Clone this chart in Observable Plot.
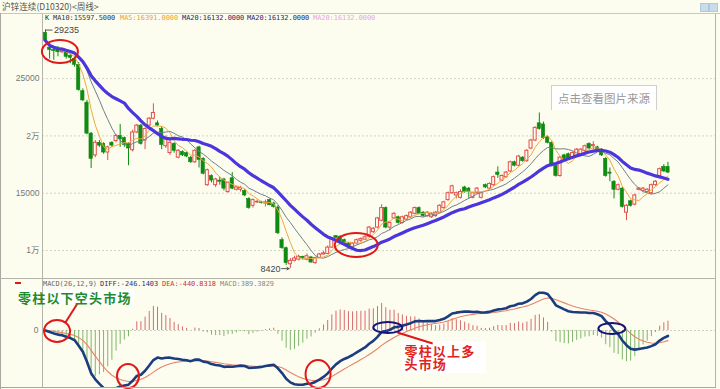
<!DOCTYPE html>
<html><head><meta charset="utf-8">
<script src="https://cdn.jsdelivr.net/npm/d3@7"></script>
<script src="https://cdn.jsdelivr.net/npm/@observablehq/plot@0.6"></script>
<style>
html,body{margin:0;padding:0;background:#fdfdef;}
#wrap{position:relative;width:720px;height:389px;overflow:hidden;background:#fdfdef;font-family:"Liberation Sans","DejaVu Sans",sans-serif;}
.abs{position:absolute;white-space:nowrap;}
.mono{font-family:"DejaVu Sans Mono","Liberation Mono",monospace;}
.cjk{font-family:"Noto Sans CJK SC",sans-serif;}
.ln{position:absolute;}
</style></head>
<body><div id="wrap"></div>
<script>
// ---- data (weekly OHLC) ----
const opens = [29000,27700,27500,27600,27300,27300,27000,26700,26200,23900,22900,20200,18300,19400,19300,18550,19400,19550,20000,19800,
19300,18750,20300,20900,19600,20900,21500,21100,20600,19100,18500,19300,18100,18600,18500,18100,17700,19000,18000,15700,
16500,15700,16100,16200,15100,16300,15300,15300,15200,14500,13900,14200,14200,14100,14400,14100,13750,10900,10200,8800,
9100,9200,9450,9200,9400,8900,9350,9650,9700,10250,11250,11200,10900,10600,10300,10600,10850,10950,11200,11600,
12000,12600,13700,12000,12800,12900,12400,12700,12900,13200,13700,13300,13000,12900,13000,13300,13700,14400,15000,14800,
14600,15500,15400,14600,15000,14600,15700,15400,15700,16800,16100,16400,16900,17700,17400,18100,17800,18900,19600,21100,
21000,19900,19400,17400,16500,18300,18400,18100,18300,18400,18700,19300,19100,19000,18800,18000,16800,16000,15300,15400,
13300,14300,14000,15300,15200,15100,15000,15700,16500,17300,17300];
const highs = [29235,28000,27700,27800,27500,27400,27100,26900,26400,24100,23100,20300,19600,19600,19400,19100,19500,20100,21000,19900,
19400,20500,21000,21000,20700,21600,22800,21300,20800,20000,19600,19400,18800,18700,18600,18200,18800,19100,18100,17100,
16600,16300,16400,16300,16000,16800,15600,15600,15300,14600,14500,14400,14300,14400,14500,14200,13900,11100,10300,9300,
9500,9600,9500,9700,9450,9400,9750,9900,10400,11100,11300,11300,11000,10700,10700,11000,11100,11300,12100,12000,
12900,14000,13800,12500,13300,13000,13000,13100,13400,13800,13800,13400,13400,13300,13400,14000,14300,15100,15700,15100,
15300,15600,15500,15100,15500,15100,15800,15900,16500,17300,16600,16900,17800,17800,18300,18200,18800,19700,20800,22000,
21200,20000,19500,17500,18200,18400,18500,18600,18900,18900,19200,19400,19500,19100,18900,18100,17200,16100,15800,15500,
14000,14400,14900,15500,15500,15400,15800,16100,17200,17500,17700];
const lows = [28150,26700,26600,26900,27200,26700,26300,26000,23900,23000,20100,17150,18100,19000,18400,17850,19000,19400,19000,19000,
17400,18600,20200,19200,18800,20800,21400,20800,18800,18900,18300,18500,18000,18200,18100,17600,17600,17200,16600,15600,
15900,15500,15700,15200,15000,15300,15200,15100,14700,13600,13700,14100,14050,13800,13900,13700,11400,10100,8700,8420,
9000,9100,9200,9100,8900,8800,9300,9600,9650,10200,11000,10700,10400,10200,10200,10500,10700,10900,11100,11500,
11900,12500,11900,11700,12700,12300,12300,12600,12800,13100,13100,12900,12900,12800,12900,13200,13600,14300,14900,14500,
14500,15000,14500,14500,14900,14500,15400,15300,15600,16300,16000,16300,16800,17300,17300,17700,17700,18800,19500,20500,
19700,19300,17300,16400,16400,17900,17900,18000,18200,18300,18600,18800,18800,18600,18200,16400,16000,14500,15200,13700,
12600,13800,13900,15200,15100,15000,14900,15600,16400,16800,16700];
const closes = [28300,27500,27400,27300,27400,26900,26800,26200,24000,23100,20200,18000,19400,19150,18550,19000,19150,20000,19700,19200,
18900,20300,20900,19300,20600,21500,22000,20900,19200,19800,19400,18700,18700,18300,18200,17700,18700,17900,16700,17000,
16100,16200,16000,15400,15900,15400,15500,15450,14800,13700,14400,14250,14150,14200,13950,13800,11500,10200,8900,9100,
9300,9450,9350,9500,8950,9350,9650,9750,10250,11000,11100,10800,10500,10300,10600,10900,11000,11150,12000,11900,
12800,13700,12000,12400,13200,12400,12900,13000,13300,13700,13200,13000,13300,13200,13300,13900,14200,15000,15600,15000,
15100,15100,15100,15000,15400,15000,15500,15800,16400,16600,16500,16800,17700,17400,18200,17800,18700,19600,20700,20600,
19800,19400,17400,16500,18100,18000,18000,18500,18800,18800,19100,18900,19200,18700,18300,16500,16700,15300,15700,13800,
13900,13900,14800,15400,15400,15300,15700,16000,17100,16900,16800];

const yTicks = [10000, 15000, 20000, 25000];
const yTickLabels = ["1万", "15000", "2万", "25000"];
const macdTicks = [0];
const macdTickLabels = ["0"];

const titleText = "沪锌连续(D10320)<周线>";
const mainLegend = [
  {text: "K", color: "#222", left: 45},
  {text: "MA10:15597.5000", color: "#333", left: 53},
  {text: "MA5:16391.0000", color: "#e8a030", left: 120},
  {text: "MA20:16132.0000", color: "#1c1c66", left: 182},
  {text: "MA20:16132.0000", color: "#1c1c66", left: 247},
  {text: "MA20:16132.0000", color: "#e4a4e4", left: 313}
];
const macdLegend = [
  {text: "MACD(26,12,9)", color: "#666", left: 43},
  {text: "DIFF:-246.1403", color: "#1a2f7a", left: 100},
  {text: "DEA:-440.8318", color: "#c83030", left: 162},
  {text: "MACD:389.3829", color: "#888", left: 220}
];
// annotations in data coordinates (candle index, value)
const mainEllipses = [
  {i: 3.6, v: 27320, rx: 18, ry: 11.5, color: "#e01818"},
  {i: 75, v: 10436, rx: 21.5, ry: 12, color: "#e01818"}
];
const macdEllipses = [
  {i: 2.9, v: -42, rx: 13, ry: 11, color: "#e01818"},
  {i: 20, v: -1932, rx: 11, ry: 12, color: "#e01818"},
  {i: 65.8, v: -1848, rx: 12.5, ry: 14, color: "#e01818"},
  {i: 82.6, v: 105, rx: 14.5, ry: 5.5, color: "#14147a"},
  {i: 136.6, v: 63, rx: 13.5, ry: 5.5, color: "#14147a"}
];
const pointerLinks = [
  {x1: 7.7, y1: 1134, x2: 4.8, y2: 336},
  {x1: 84.8, y1: -84, x2: 93.3, y2: -546}
];
const noteDown = "零柱以下空头市场";
const notesUp = [
  {i: 86.5, v: -1163, text: "零柱以上多\n头市场", color: "#e02424"}
];
const watermark = "点击查看图片来源";

// ---- derived series ----
const N = closes.length;
const idx = d3.range(N);
const candles = idx.map(i => ({i, o: opens[i], h: highs[i], l: lows[i], c: closes[i], up: closes[i] >= opens[i]}));
const ups = candles.filter(d => d.up), downs = candles.filter(d => !d.up);
function movingAverage(vals, k) { return vals.map((_, i) => d3.mean(vals.slice(Math.max(0, i - k + 1), i + 1))); }
function ema(vals, n) { const a = 2 / (n + 1); let e; return vals.map((v, i) => (e = i === 0 ? v : e + a * (v - e))); }
const ma5 = movingAverage(closes, 5), ma10 = movingAverage(closes, 10), ma20 = movingAverage(closes, 20);
const e12 = ema(closes, 12), e26 = ema(closes, 26);
const diff = e12.map((v, i) => v - e26[i]);
const dea = ema(diff, 9);
const macd = diff.map((v, i) => 2 * (v - dea[i]));

const BG = "#fdfdef", UP = "#e0504a", DOWN = "#0f8a12";
const xDomain = [-0.72, 161.45];
const labelOf = (ticks, labels) => d => labels[ticks.indexOf(d)];
const hiIdx = d3.maxIndex(highs), loIdx = d3.minIndex(lows);

const main = Plot.plot({
  width: 720, height: 278, marginLeft: 42, marginRight: 5, marginTop: 13, marginBottom: 0,
  x: {domain: xDomain, axis: null},
  y: {domain: [7557, 30681], axis: null, label: null},
  style: {background: "transparent", fontFamily: "Liberation Sans, DejaVu Sans, Noto Sans CJK SC, sans-serif", overflow: "visible"},
  marks: [
    Plot.ruleY(yTicks, {stroke: "#d4d4c4", strokeDasharray: "2,2"}),
    Plot.axisY(yTicks, {anchor: "left", tickSize: 0, tickPadding: 3, tickFormat: labelOf(yTicks, yTickLabels), fontSize: 8.5, fill: "#777", label: null}),
    Plot.frame({stroke: "#b4b4aa"}),
    Plot.ruleX(ups, {x: "i", y1: "l", y2: "h", stroke: UP, strokeWidth: 1}),
    Plot.ruleX(downs, {x: "i", y1: "l", y2: "h", stroke: DOWN, strokeWidth: 1}),
    Plot.rect(downs, {x1: d => d.i - 0.4, x2: d => d.i + 0.4, y1: "o", y2: "c", fill: DOWN, stroke: DOWN, strokeWidth: 0.6}),
    Plot.rect(ups, {x1: d => d.i - 0.36, x2: d => d.i + 0.36, y1: "o", y2: "c", fill: BG, stroke: UP, strokeWidth: 1}),
    Plot.line(idx, {x: d => d, y: d => ma10[d], stroke: "#6e8088", strokeWidth: 1}),
    Plot.line(idx, {x: d => d, y: d => ma5[d], stroke: "#f0a83c", strokeWidth: 1}),
    Plot.line(idx, {x: d => d, y: d => ma20[d], stroke: "#4a36dc", strokeWidth: 3.2, strokeLinejoin: "round"}),
    Plot.ruleY([highs[hiIdx]], {x1: hiIdx, x2: hiIdx + 1.8, stroke: "#555", strokeWidth: 1}),
    Plot.text([highs[hiIdx]], {x: hiIdx + 1.8, y: d => d, text: d => String(d), textAnchor: "start", dx: 1, fontSize: 9, fill: "#444"}),
    Plot.arrow([lows[loIdx]], {x1: loIdx - 2.1, x2: loIdx - 0.3, y1: d => d, y2: d => d, stroke: "#555", strokeWidth: 1, headLength: 4}),
    Plot.text([lows[loIdx]], {x: loIdx - 2.1, y: d => d, text: d => String(d), textAnchor: "end", dx: -1, fontSize: 9, fill: "#444"})
  ]
});

const macdPlot = Plot.plot({
  width: 720, height: 111, marginLeft: 42, marginRight: 5, marginTop: 0, marginBottom: 2,
  x: {domain: xDomain, axis: null},
  y: {domain: [-2394, 2184], axis: null, label: null},
  style: {background: "transparent", fontFamily: "Liberation Sans, DejaVu Sans, sans-serif", overflow: "visible"},
  marks: [
    Plot.ruleY(macdTicks, {stroke: "#cfcfc0", strokeDasharray: "2,2"}),
    Plot.axisY(macdTicks, {anchor: "left", tickSize: 0, tickPadding: 4, tickFormat: labelOf(macdTicks, macdTickLabels), fontSize: 8.5, fill: "#777", label: null}),
    Plot.frame({stroke: "#b4b4aa"}),
    Plot.ruleX(idx.filter(i => macd[i] >= 0), {x: d => d, y1: 0, y2: d => macd[d], stroke: "#d86a6a", strokeWidth: 1}),
    Plot.ruleX(idx.filter(i => macd[i] < 0), {x: d => d, y1: 0, y2: d => macd[d], stroke: "#7fb56c", strokeWidth: 1}),
    Plot.line(idx, {x: d => d, y: d => dea[d], stroke: "#e8826c", strokeWidth: 1.1, clip: true}),
    Plot.line(idx, {x: d => d, y: d => diff[d], stroke: "#1b3c7e", strokeWidth: 2.6, strokeLinejoin: "round", clip: true}),
    Plot.link(pointerLinks, {x1: "x1", y1: "y1", x2: "x2", y2: "y2", stroke: "#e01818", strokeWidth: 2}),
    Plot.text(notesUp, {x: "i", y: "v", text: "text", fill: "color", textAnchor: "start", lineAnchor: "middle", lineHeight: 0.97,
      fontSize: 13, fontWeight: "bold", fontFamily: "Noto Sans CJK SC, sans-serif"})
  ]
});
d3.select(macdPlot).selectAll("text").filter(function () { return /[\u4e00-\u9fff]/.test(this.textContent); })
  .style("letter-spacing", "1.2px");

function addEllipses(svg, list) {
  const sx = svg.scale("x"), sy = svg.scale("y");
  const g = d3.select(svg).append("g").attr("fill", "none");
  for (const e of list) {
    g.append("ellipse").attr("cx", sx.apply(e.i)).attr("cy", sy.apply(e.v))
      .attr("rx", e.rx).attr("ry", e.ry).attr("stroke", e.color).attr("stroke-width", 2);
  }
}
addEllipses(main, mainEllipses);
addEllipses(macdPlot, macdEllipses);

const wrap = document.getElementById("wrap");
function div(cls, css, html) { const d = document.createElement("div"); d.className = cls; d.style.cssText = css; if (html != null) d.innerHTML = html; wrap.appendChild(d); return d; }

// white boxes behind the notes (below the transparent plots)
div("ln", "left:17px;top:289px;width:117px;height:15px;background:#ffffff;");
div("ln", "left:401px;top:341px;width:85px;height:32px;background:#ffffff;");

main.style.position = "absolute"; main.style.left = "0px"; main.style.top = "0px";
macdPlot.style.position = "absolute"; macdPlot.style.left = "0px"; macdPlot.style.top = "278px";
wrap.appendChild(main);
wrap.appendChild(macdPlot);

// frame lines outside the plot areas
div("ln", "left:0;top:13px;width:720px;height:1px;background:#c8c8c0;");
div("ln", "left:0;top:13px;width:1px;height:376px;background:#a8a8a0;");
div("ln", "left:0;top:278px;width:716px;height:1px;background:#b4b4aa;");
div("ln", "left:0;top:387px;width:716px;height:1px;background:#a8a8a0;");

// title and icons
div("abs cjk", "left:2px;top:1px;font-size:8.6px;line-height:11px;color:#555;", titleText);
div("ln", "left:700px;top:3px;width:7px;height:7px;background:#c9dcea;border:1px solid #b0c8dc;");
div("ln", "left:709px;top:3px;width:7px;height:7px;background:#c9dcea;border:1px solid #b0c8dc;");

// legends
for (const l of mainLegend) div("abs mono", `left:${l.left}px;top:14px;font-size:6.9px;line-height:9px;color:${l.color};`, l.text);
for (const l of macdLegend) div("abs mono", `left:${l.left}px;top:279.5px;font-size:6.9px;line-height:9px;color:${l.color};`, l.text);

// watermark box
div("abs cjk", "left:551px;top:85px;width:104px;height:24px;background:#ffffff;border:1px solid #cfcfcf;border-bottom:none;font-size:11.5px;line-height:24px;text-align:center;color:#9a9a9a;", watermark);

// small red mark and bearish note
div("ln", "left:15px;top:282px;width:6px;height:2px;background:#e01818;");
div("abs cjk", "left:18px;top:290px;font-size:13px;font-weight:bold;line-height:15px;letter-spacing:1.2px;color:#1e8c2c;", noteDown);
</script></body></html>
